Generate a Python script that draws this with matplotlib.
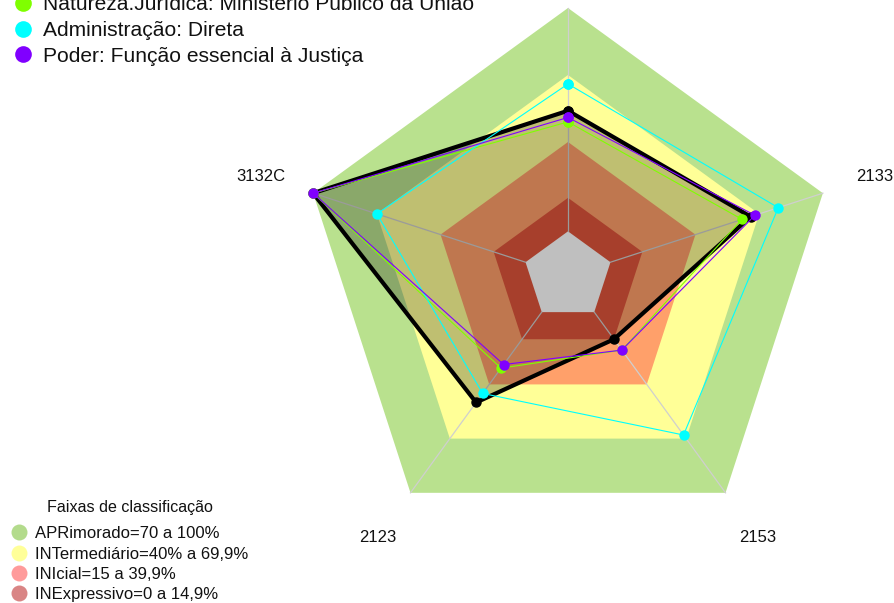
import numpy as np
import matplotlib
matplotlib.use("Agg")
import matplotlib.pyplot as plt
from matplotlib.patches import Polygon
from matplotlib.lines import Line2D

plt.rcParams['font.family'] = ['Liberation Sans', 'DejaVu Sans']

# ---------------- data ----------------
axis_labels = ["", "3132C", "2123", "2153", "2133"]   # top label lies outside the visible area
band_levels = [100, 70, 40, 15]
band_colors = ["#B9E18E", "#FFFF97", "#FFA06A", "#E0553B"]
band_names = ["APRimorado=70 a 100%", "INTermediário=40% a 69,9%",
              "INIcial=15 a 39,9%", "INExpressivo=0 a 14,9%"]
band_legend_colors = ["#B3DB8C", "#FFFF99", "#FF9B9B", "#D98585"]
band_title = "Faixas de classificação"

unit_vals = [54, 100, 50, 15, 66]
natureza_vals = [49, 100, 31, 21, 62]
admin_vals = [66, 70, 45, 68, 79]
poder_vals = [51, 100, 29, 21, 68]
series_names = ["Natureza.Jurídica: Ministério Público da União",
                "Administração: Direta",
                "Poder: Função essencial à Justiça"]
series_colors = ["#7FFF00", "#00FFFF", "#8000FF"]

# ---------------- layout ----------------
W, H = 894, 603
cx, cy, R = 568, 276, 268
n = len(axis_labels)
angles = np.deg2rad(90 + 72 * np.arange(n))


def rad(v):
    return (1 + 5 * np.asarray(v, dtype=float) / 100.0) / 6.0


def pts(vals):
    r = rad(vals)
    return np.column_stack([r * np.cos(angles), r * np.sin(angles)])


fig = plt.figure(figsize=(W / 100, H / 100), dpi=100)
ax = fig.add_axes([0, 0, 1, 1])
ax.set_xlim(-cx / R, (W - cx) / R)
ax.set_ylim(-(H - cy) / R, cy / R)
ax.axis('off')

# bands
for lvl, col in zip(band_levels, band_colors):
    ax.add_patch(Polygon(pts([lvl] * n), closed=True, facecolor=col, edgecolor='none', zorder=1))
ax.add_patch(Polygon(pts([0] * n), closed=True, facecolor='white', edgecolor='none', zorder=1))

# spokes
r0, r1 = rad(0), rad(100)
for a in angles:
    ax.plot([r0 * np.cos(a), r1 * np.cos(a)], [r0 * np.sin(a), r1 * np.sin(a)],
            color='#CFCFCF', lw=0.9, zorder=2)

# main unit series
P = pts(unit_vals)
ax.add_patch(Polygon(P, closed=True, facecolor=(0, 0, 0, 0.25), edgecolor='none', zorder=3))
Pc = np.vstack([P, P[:1]])
ax.plot(Pc[:, 0], Pc[:, 1], color='black', lw=3, zorder=4,
        marker='o', markersize=6.5, solid_joinstyle='miter')

for vals, col in zip([natureza_vals, admin_vals, poder_vals], series_colors):
    Q = pts(vals)
    Qc = np.vstack([Q, Q[:1]])
    ax.plot(Qc[:, 0], Qc[:, 1], color=col, lw=0.8, zorder=5,
            marker='o', markersize=7.5, markeredgewidth=0)

# axis labels
for lab, a in zip(axis_labels, angles):
    if lab:
        ax.text(1.205 * np.cos(a), 1.205 * np.sin(a), lab, ha='center', va='center',
                fontsize=12, color='#111111', zorder=6)

# top legend
def fy(ypx):
    return 1 - ypx / H

base_y = [10.5, 36, 61.5]
for name, col, by in zip(series_names, series_colors, base_y):
    fig.add_artist(Line2D([23 / W], [fy(by - 7.5)], marker='o', markersize=12,
                          color=col, markeredgewidth=0, linestyle='none'))
    fig.text(43 / W, fy(by), name, ha='left', va='baseline', fontsize=15.1, color='#111111')

# bottom legend
fig.text(130 / W, fy(511.7), band_title, ha='center', va='baseline', fontsize=11.6, color='#111111')
leg_base = [538.3, 559, 579.3, 599.3]
for name, col, by in zip(band_names, band_legend_colors, leg_base):
    fig.add_artist(Line2D([19 / W], [fy(by - 6)], marker='o', markersize=11.5,
                          color=col, markeredgewidth=0, linestyle='none'))
    fig.text(35 / W, fy(by), name, ha='left', va='baseline', fontsize=12, color='#111111')

fig.savefig('out.png', dpi=100)
